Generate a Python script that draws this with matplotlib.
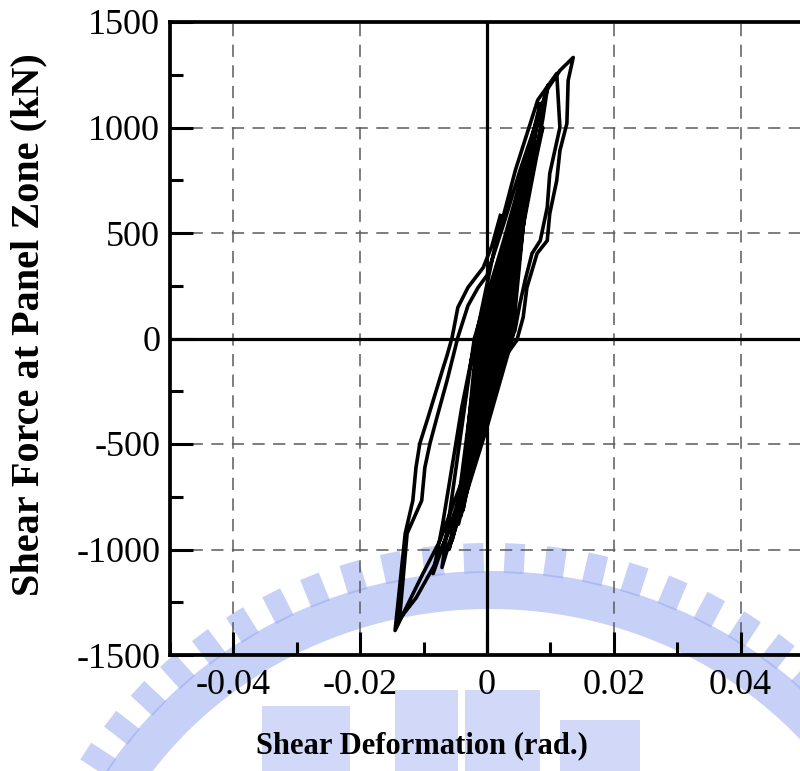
import numpy as np
import matplotlib
matplotlib.use("Agg")
import matplotlib.pyplot as plt
from matplotlib.patches import Polygon

# ---------------------------------------------------------------
# Cyclic test record: shear deformation (rad) vs. panel-zone shear (kN)
# One list entry per loading cycle, plotted end to end.
# ---------------------------------------------------------------
loop_defl = [
    [0.0, 0.0008, 0.0016, 0.0011, 0.0001, -0.0006],
    [-0.0003, 0.0002, 0.0017, 0.0012, 0.0002, -0.0007],
    [-0.0003, 0.0001, 0.0021, 0.0014, 0.0002, -0.0009],
    [-0.0005, 0.0003, 0.0022, 0.0015, 0.0002, -0.0010],
    [-0.0005, 0.0, 0.0012, 0.0023, 0.0016, 0.0001, -0.0011],
    [-0.0006, 0.0003, 0.0015, 0.0036, 0.0028, 0.0005, -0.0014],
    [-0.0007, 0.0002, 0.0016, 0.0037, 0.0029, 0.0006, -0.0015],
    [-0.0008, -0.0001, 0.0014, 0.0039, 0.0031, 0.0009, -0.0017],
    [-0.0012, 0.0001, 0.0020, 0.0052, 0.0043, 0.0008, -0.0022],
    [-0.0013, 0.0, 0.0021, 0.0054, 0.0045, 0.0010, -0.0024],
    [-0.0014, -0.0003, 0.0019, 0.0057, 0.0048, 0.0013, -0.0026],
    [-0.0016, -0.0004, 0.0017, 0.0045, 0.0062, 0.0052, 0.0015, -0.0028],
    [-0.0018, -0.0002, 0.0025, 0.0071, 0.0060, 0.0017, -0.0030],
    [-0.0022, -0.0003, 0.0026, 0.0073, 0.0062, 0.0020, -0.0038],
    [-0.0024, -0.0006, 0.0022, 0.0050, 0.0076, 0.0066, 0.0022, -0.0041],
    [-0.0030, -0.0010, 0.0020, 0.0050, 0.0080, 0.0072, 0.0045, 0.0028, -0.0005, -0.0045],
    [-0.0035, -0.0008, 0.0028, 0.0060, 0.0088, 0.0078, 0.0055, 0.0025, -0.0010, -0.0055],
    [-0.0042, -0.0012, 0.0022, 0.0055, 0.0092, 0.0083, 0.0058, 0.0040, 0.0, -0.0060],
    [-0.0040, -0.0016, 0.0025, 0.0060, 0.0084, 0.0075, 0.0050, 0.0033, -0.0008, -0.0071],
    [-0.0060, -0.0020, 0.0025, 0.0070, 0.0096, 0.0088, 0.0060, 0.0036, -0.0010, -0.0085],
    [-0.0070, -0.0040, -0.0018, 0.0010, 0.0045, 0.0080, 0.0110,
     0.0115, 0.0099, 0.0095, 0.0084, 0.0071, 0.0060, 0.0052, 0.0044, 0.0032, 0.0016,
     -0.0012, -0.0032, -0.0055, -0.0084, -0.0112, -0.0138],
    [-0.0126, -0.0103, -0.0098, -0.0090, -0.0079, -0.0063, -0.0046, -0.0030, -0.0014,
     0.0, 0.0028, 0.0052, 0.0076, 0.0096, 0.0115, 0.0136,
     0.0128, 0.0126, 0.0115, 0.0110, 0.0099, 0.0095, 0.0079, 0.0063, 0.0057, 0.0047,
     0.0021, 0.0005, -0.0008, -0.0027, -0.0051, -0.0074, -0.0101, -0.0122, -0.0145],
    [-0.0140, -0.0129, -0.0117, -0.0112, -0.0106, -0.0093, -0.0069, -0.0063, -0.0055,
     -0.0046, -0.0030, -0.0006, 0.0008, 0.0021],
]
loop_force = [
    [0, 130, 260, 170, 0, -230],
    [-130, 0, 270, 180, 0, -250],
    [-150, 0, 322, 200, 0, -318],
    [-200, 0, 340, 220, 0, -330],
    [-210, 0, 180, 350, 230, 0, -345],
    [-230, 0, 200, 464, 330, 0, -436],
    [-250, 0, 210, 475, 340, 0, -445],
    [-260, 0, 200, 500, 360, 0, -470],
    [-380, 0, 280, 654, 520, 0, -588],
    [-390, 0, 290, 670, 530, 0, -600],
    [-400, 0, 270, 700, 560, 0, -625],
    [-420, 0, 250, 560, 780, 640, 0, -650],
    [-480, 0, 340, 867, 700, 0, -706],
    [-520, 0, 350, 880, 720, 0, -815],
    [-540, 0, 320, 640, 930, 760, 0, -840],
    [-600, 0, 350, 700, 1050, 900, 480, 0, -380, -880],
    [-680, 0, 380, 740, 1000, 860, 500, 0, -400, -957],
    [-700, 0, 380, 760, 1150, 980, 560, 0, -420, -1000],
    [-750, 0, 420, 820, 1114, 950, 560, 0, -450, -1085],
    [-850, 0, 450, 930, 1199, 1040, 600, 0, -470, -1114],
    [-880, -330, 0, 400, 800, 1130, 1256,
     1000, 782, 621, 464, 403, 275, 166, 38, -43, -137,
     -440, -640, -880, -1080, -1230, -1330],
    [-924, -768, -611, -498, -374, -199, 5, 156, 242,
     299, 559, 796, 1009, 1185, 1270, 1332,
     1223, 1019, 891, 749, 592, 464, 403, 242, 100, -9,
     -118, -261, -389, -578, -768, -957, -1114, -1242, -1384],
    [-1242, -924, -768, -611, -498, -374, -137, -80, 5,
     147, 242, 336, 441, 583],
]

x_major = [-0.04, -0.02, 0.0, 0.02, 0.04]
x_labels = ["-0.04", "-0.02", "0", "0.02", "0.04"]
x_minor = [-0.05, -0.03, -0.01, 0.01, 0.03, 0.05]
y_major = [-1500, -1000, -500, 0, 500, 1000, 1500]
y_labels = ["-1500", "-1000", "-500", "0", "500", "1000", "1500"]
y_minor = [-1250, -750, -250, 250, 750, 1250]

x_label = "Shear Deformation (rad.)"
y_label = "Shear Force at Panel Zone (kN)"

plt.rcParams["font.family"] = ["Liberation Serif", "DejaVu Serif"]
plt.rcParams["axes.unicode_minus"] = False

W, H = 800, 771
fig = plt.figure(figsize=(W / 100, H / 100), dpi=100)
fig.patch.set_facecolor("white")


def to_fig(xp, yp):
    return (xp / W, (H - yp) / H)


# ---- faint university seal in the background ----
seal_color = "#9aaaf0"
seal_alpha = 0.55
cx, cy = 490.0, 1000.0
a_mid, b_mid = 435.0, 410.0
half_band = 19.0
t = np.linspace(0.0, np.pi, 240)
outer = [to_fig(cx + (a_mid + half_band) * np.cos(v), cy - (b_mid + half_band) * np.sin(v)) for v in t]
inner = [to_fig(cx + (a_mid - half_band) * np.cos(v), cy - (b_mid - half_band) * np.sin(v)) for v in t[::-1]]
fig.add_artist(Polygon(outer + inner, closed=True, facecolor=seal_color, edgecolor="none",
                       alpha=seal_alpha, transform=fig.transFigure, zorder=-5))
for deg in np.arange(7.0, 175.0, 5.0):
    v = np.radians(deg)
    ra, rb = a_mid + half_band - 2, b_mid + half_band - 2
    px0, py0 = cx + ra * np.cos(v), cy - rb * np.sin(v)
    nx, ny = np.cos(v), -np.sin(v)
    tx, ty = -ny, nx
    L, w = 30.0, 10.0
    pts = [(px0 - tx * w, py0 - ty * w), (px0 + tx * w, py0 + ty * w),
           (px0 + tx * w + nx * L, py0 + ty * w + ny * L),
           (px0 - tx * w + nx * L, py0 - ty * w + ny * L)]
    fig.add_artist(Polygon([to_fig(*p) for p in pts], closed=True, facecolor=seal_color,
                           edgecolor="none", alpha=seal_alpha, transform=fig.transFigure, zorder=-5))
for (x0, y0, x1, y1) in [(395, 690, 458, 771), (465, 690, 540, 771), (560, 720, 640, 771),
                         (262, 706, 350, 771)]:
    fig.add_artist(Polygon([to_fig(x0, y0), to_fig(x1, y0), to_fig(x1, y1), to_fig(x0, y1)],
                           closed=True, facecolor=seal_color, edgecolor="none", alpha=0.45,
                           transform=fig.transFigure, zorder=-5))

# ---- axes ----
ax = fig.add_axes([170 / W, 116 / H, 634 / W, 633 / H])
ax.patch.set_facecolor("none")
ax.set_xlim(-0.05, 0.05)
ax.set_ylim(-1500, 1500)

for s in ax.spines.values():
    s.set_linewidth(2.7)
    s.set_zorder(5)

ax.set_xticks(x_major, x_labels)
ax.set_xticks(x_minor, minor=True)
ax.set_yticks(y_major, y_labels)
ax.set_yticks(y_minor, minor=True)
ax.tick_params(which="both", direction="in", top=False, right=False, width=2.2,
               labelsize=26, colors="black")
ax.tick_params(which="major", length=16.5)
ax.tick_params(which="minor", length=9.5)
ax.tick_params(axis="x", which="major", pad=10)
ax.tick_params(axis="y", which="major", pad=7)

grid_style = dict(color="#5a5a5a", lw=1.1, ls=(0, (8, 5.5)), zorder=1)
for v in x_major:
    if v != 0:
        ax.axvline(v, **grid_style)
for v in y_major:
    if v != 0 and abs(v) != 1500:
        ax.axhline(v, **grid_style)
ax.axhline(0, color="black", lw=2.3, zorder=2)
ax.axvline(0, color="black", lw=2.3, zorder=2)

ax.plot(np.concatenate(loop_defl), np.concatenate(loop_force), color="black", lw=2.6,
        solid_joinstyle="round", zorder=3)

fig.text(*to_fig(422, 746), x_label, ha="center", va="center", fontsize=22,
         fontweight="bold")
fig.text(*to_fig(29, 325), y_label, ha="center", va="center", fontsize=29,
         fontweight="bold", rotation=90)

fig.savefig("out.png", dpi=100, facecolor="white")
